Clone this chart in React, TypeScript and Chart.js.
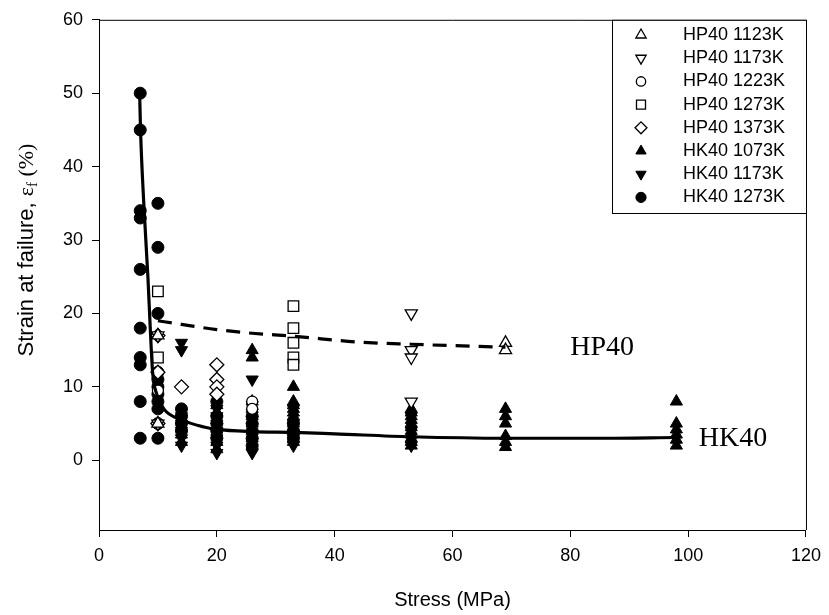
import React, { useEffect, useRef } from 'react';
import { Chart, registerables } from 'chart.js';
import { drawPoint } from 'chart.js/helpers';

Chart.register(...registerables);

const xTicks = [0, 20, 40, 60, 80, 100, 120];
const yTicks = [0, 10, 20, 30, 40, 50, 60];

// HP40 series (open markers)
const hp1123X = [10, 10, 69, 69];
const hp1123Y = [17, 5, 16, 15];
const hp1173X = [10, 10, 53, 53, 53, 53];
const hp1173Y = [17, 5, 20, 15, 14, 8];
const hp1223X = [10, 26, 26];
const hp1223Y = [9.5, 8, 7];
const hp1273X = [10, 10, 33, 33, 33, 33, 33];
const hp1273Y = [23, 14, 21, 18, 16, 14, 13];
const hp1373X = [10, 10, 10, 14, 20, 20, 20, 20];
const hp1373Y = [17, 12, 5, 10, 13, 11, 10, 9];

// HK40 series (filled markers)
const hk1073X = [14, 14, 14, 14, 14, 20, 20, 20, 20, 20, 20, 20, 26, 26, 26, 26, 26, 26, 26, 26, 26,
  33, 33, 33, 33, 33, 33, 33, 33, 33, 33, 33, 33, 33,
  53, 53, 53, 53, 53, 53, 53, 53, 53, 53, 53,
  69, 69, 69, 69, 69, 69, 98, 98, 98, 98, 98, 98];
const hk1073Y = [6.5, 5.5, 4.5, 3.5, 2.5, 7.5, 6.5, 5.5, 4.5, 3.5, 2.5, 1.5, 15, 14, 8, 7, 6, 5, 4, 3, 2,
  10, 8, 7.5, 7, 6.5, 6, 5.5, 5, 4.5, 4, 3.5, 3, 2.5,
  7, 6.5, 6, 5.5, 5, 4.5, 4, 3.5, 3, 2.5, 2,
  7, 6, 5, 3.3, 2.5, 1.8, 8, 5, 4.2, 3.5, 2.8, 2];
const hk1173X = [14, 14, 14, 14, 14, 14, 14, 20, 20, 20, 20, 20, 20, 20, 26, 26, 26, 26, 26, 26, 26, 26,
  33, 33, 33, 33, 53, 53, 53];
const hk1173Y = [16, 15, 6, 5, 4, 3, 2, 7, 6, 5, 4, 3, 2, 1, 11, 7.5, 6.5, 5.5, 4.5, 3.5, 2.5, 1,
  7, 5, 3, 2, 6, 4, 2];
const hk1273X = [7, 7, 7, 7, 7, 7, 7, 7, 7, 7, 10, 10, 10, 10, 10, 10, 10, 10, 10, 10, 10,
  14, 14, 14, 14, 20, 20, 20, 20, 20, 26, 26, 26, 26, 26, 33, 33, 33];
const hk1273Y = [50, 45, 34, 33, 26, 18, 14, 13, 8, 3, 35, 29, 20, 12, 11, 10, 9, 8, 7, 5, 3,
  7, 6, 5, 4, 8, 6, 5, 4, 3, 6, 5, 4, 3, 2, 5, 4, 3];

// fitted curves
const hkFitX = [6.9, 7.05, 7.6, 8.3, 8.7, 9.1, 9.8, 11, 14, 18, 20, 26, 33, 40, 53, 69, 85, 98];
const hkFitY = [50, 45, 35, 25, 18, 12, 9, 7, 5.5, 4.5, 4.2, 3.9, 3.8, 3.6, 3.2, 3.0, 3.0, 3.1];
const hpFitX = [10, 14, 20, 26, 33, 44, 53, 69];
const hpFitY = [19, 18.5, 17.8, 17.3, 16.9, 16.1, 15.8, 15.4];

const SANS = "'Liberation Sans', Arial, sans-serif";
const SERIF = "'Liberation Serif', 'Times New Roman', serif";

const pts = (xs: number[], ys: number[]) => xs.map((x, i) => ({ x, y: ys[i] }));

export default function App() {
  const ref = useRef<HTMLCanvasElement>(null);
  useEffect(() => {
    if (!ref.current) return;
    const series = [
      { label: 'HP40 1123K', xs: hp1123X, ys: hp1123Y, style: 'triangle', rot: 0, filled: false, r: 7 },
      { label: 'HP40 1173K', xs: hp1173X, ys: hp1173Y, style: 'triangle', rot: 180, filled: false, r: 7 },
      { label: 'HP40 1223K', xs: hp1223X, ys: hp1223Y, style: 'circle', rot: 0, filled: false, r: 5.5 },
      { label: 'HP40 1273K', xs: hp1273X, ys: hp1273Y, style: 'rect', rot: 0, filled: false, r: 7.5 },
      { label: 'HP40 1373K', xs: hp1373X, ys: hp1373Y, style: 'rectRot', rot: 0, filled: false, r: 7 },
      { label: 'HK40 1073K', xs: hk1073X, ys: hk1073Y, style: 'triangle', rot: 0, filled: true, r: 7 },
      { label: 'HK40 1173K', xs: hk1173X, ys: hk1173Y, style: 'triangle', rot: 180, filled: true, r: 7 },
      { label: 'HK40 1273K', xs: hk1273X, ys: hk1273Y, style: 'circle', rot: 0, filled: true, r: 6 },
    ];
    const markerSets = series.map((s) => ({
      label: s.label,
      data: pts(s.xs, s.ys),
      showLine: false,
      pointStyle: s.style,
      pointRotation: s.rot,
      pointRadius: s.r,
      pointHoverRadius: s.r,
      pointBackgroundColor: s.filled ? '#000' : '#fff',
      pointBorderColor: '#000',
      pointBorderWidth: s.filled ? 1 : 1.3,
    }));
    const fitSets = [
      {
        label: 'HK40 fit', data: pts(hkFitX, hkFitY), showLine: true, pointRadius: 0,
        borderColor: '#000', borderWidth: 3.2, cubicInterpolationMode: 'monotone', fill: false,
      },
      {
        label: 'HP40 fit', data: pts(hpFitX, hpFitY), showLine: true, pointRadius: 0,
        borderColor: '#000', borderWidth: 3.2, borderDash: [14, 9], cubicInterpolationMode: 'monotone', fill: false,
      },
    ];

    const decor = {
      id: 'decor',
      afterDraw(chart: any) {
        const ctx = chart.ctx;
        const a = chart.chartArea;
        const xs = chart.scales.x;
        const ys = chart.scales.y;
        ctx.save();
        // frame top & right
        ctx.strokeStyle = '#000';
        ctx.lineWidth = 1;
        ctx.beginPath();
        ctx.moveTo(a.left, a.top + 0.5);
        ctx.lineTo(a.right + 0.5, a.top + 0.5);
        ctx.lineTo(a.right + 0.5, a.bottom);
        ctx.stroke();

        // annotations
        ctx.fillStyle = '#000';
        ctx.font = `28px ${SERIF}`;
        ctx.textAlign = 'left';
        ctx.textBaseline = 'middle';
        ctx.fillText('HP40', xs.getPixelForValue(80), ys.getPixelForValue(15.3));
        ctx.fillText('HK40', xs.getPixelForValue(101.8), ys.getPixelForValue(3));

        // legend
        const bx0 = 612, bx1 = a.right + 0.5, by0 = a.top + 0.5, by1 = 213.5;
        ctx.fillStyle = '#fff';
        ctx.fillRect(bx0, by0, bx1 - bx0, by1 - by0);
        ctx.strokeStyle = '#000';
        ctx.lineWidth = 1;
        ctx.strokeRect(bx0 + 0.5, by0, bx1 - bx0 - 0.5, by1 - by0);
        series.forEach((s, i) => {
          const y = 35 + i * 23.2;
          ctx.fillStyle = s.filled ? '#000' : '#fff';
          ctx.strokeStyle = '#000';
          ctx.lineWidth = s.filled ? 1 : 1.3;
          drawPoint(ctx, { pointStyle: s.style, rotation: s.rot, radius: s.r * 0.85, borderWidth: ctx.lineWidth }, 641, y);
          ctx.fillStyle = '#000';
          ctx.font = `18px ${SANS}`;
          ctx.textAlign = 'left';
          ctx.textBaseline = 'middle';
          ctx.fillText(s.label, 683, y);
        });

        // axis titles
        ctx.fillStyle = '#000';
        ctx.textBaseline = 'middle';
        ctx.textAlign = 'center';
        ctx.font = `20px ${SANS}`;
        ctx.fillText('Stress (MPa)', (a.left + a.right) / 2, 600);

        ctx.translate(27, 250);
        ctx.rotate(-Math.PI / 2);
        const parts = [
          { t: 'Strain at failure, ', f: `22px ${SANS}`, dy: 0 },
          { t: 'ε', f: `22px ${SERIF}`, dy: 0 },
          { t: 'f', f: `15px ${SERIF}`, dy: 6 },
          { t: ' (%)', f: `22px ${SERIF}`, dy: 0 },
        ];
        let total = 0;
        parts.forEach((p) => { ctx.font = p.f; total += ctx.measureText(p.t).width; });
        let cx = -total / 2;
        ctx.textAlign = 'left';
        parts.forEach((p) => {
          ctx.font = p.f;
          ctx.fillText(p.t, cx, p.dy);
          cx += ctx.measureText(p.t).width;
        });
        ctx.restore();
      },
    };

    const chart = new Chart(ref.current, {
      type: 'scatter',
      data: { datasets: [...fitSets, ...markerSets] as any },
      options: {
        responsive: false,
        animation: false,
        events: [],
        layout: { padding: { left: 0, right: 18, top: 14, bottom: 0 } },
        plugins: { legend: { display: false }, tooltip: { enabled: false } },
        scales: {
          x: {
            type: 'linear', min: 0, max: 120,
            afterBuildTicks: (s: any) => { s.ticks = xTicks.map((v) => ({ value: v })); },
            afterFit: (s: any) => { s.height = 85; },
            grid: { drawOnChartArea: false, drawTicks: true, tickLength: 7, color: '#000', lineWidth: 1 },
            border: { display: true, color: '#000', width: 1 },
            ticks: { color: '#000', font: { family: SANS, size: 18 }, padding: 8, maxRotation: 0 },
          },
          y: {
            type: 'linear', min: -9.5, max: 60,
            afterBuildTicks: (s: any) => { s.ticks = yTicks.map((v) => ({ value: v })); },
            afterFit: (s: any) => { s.width = 99; },
            grid: { drawOnChartArea: false, drawTicks: true, tickLength: 7, color: '#000', lineWidth: 1 },
            border: { display: true, color: '#000', width: 1 },
            ticks: { color: '#000', font: { family: SANS, size: 18 }, padding: 9 },
          },
        },
      } as any,
      plugins: [decor],
    });
    return () => chart.destroy();
  }, []);
  return (
    <canvas
      ref={ref}
      width={829}
      height={615}
      style={{ position: 'fixed', left: 0, top: 0, width: 829, height: 615, display: 'block' }}
    />
  );
}
